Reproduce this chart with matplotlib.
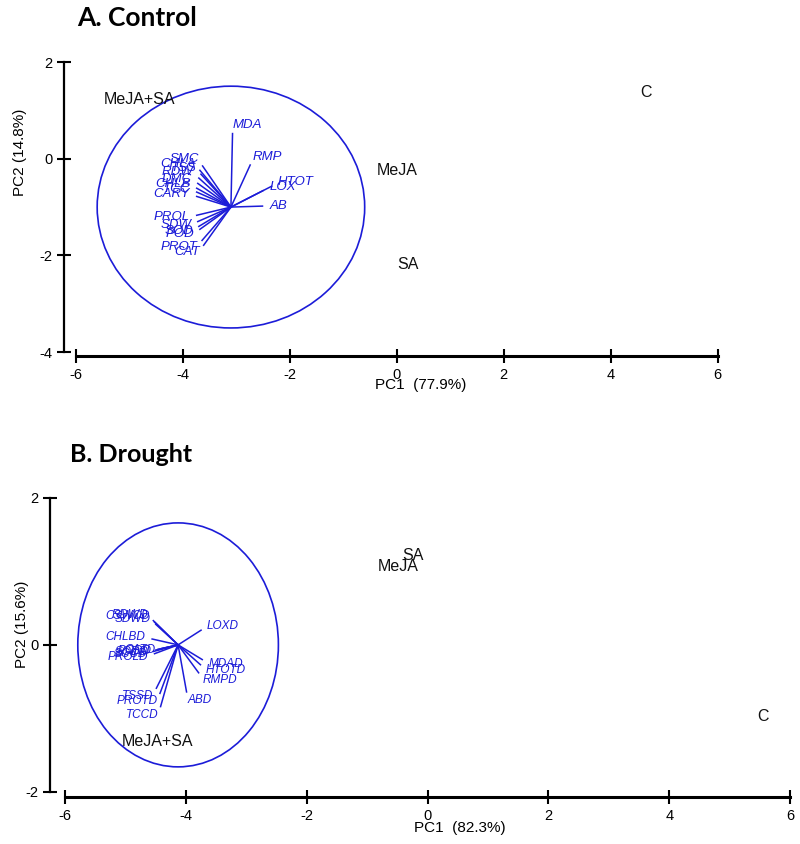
import matplotlib
matplotlib.use('Agg')
import matplotlib.pyplot as plt
from matplotlib.patches import Ellipse
import numpy as np

plt.rcParams['axes.unicode_minus'] = False

# ---- data ----
ctrl_groups = ['MeJA+SA', 'C', 'MeJA', 'SA']
ctrl_gx = [-4.8, 4.65, 0.0, 0.2]
ctrl_gy = [1.23, 1.36, -0.24, -2.18]

ctrl_vars = ['MDA', 'RMP', 'HTOT', 'LOX', 'AB', 'SMC', 'CHLA', 'TSS', 'RDW', 'DMC',
             'CHLB', 'TCC', 'CARY', 'PROL', 'SDW', 'SOD', 'POD', 'PROT', 'CAT']
ctrl_lx = [0.03, 0.36, 0.76, 0.60, 0.59, -0.53, -0.58, -0.56, -0.60, -0.62,
           -0.64, -0.64, -0.64, -0.64, -0.62, -0.60, -0.58, -0.54, -0.51]
ctrl_ly = [1.52, 0.87, 0.43, 0.34, 0.02, 0.85, 0.76, 0.68, 0.60, 0.49,
           0.39, 0.31, 0.22, -0.17, -0.30, -0.40, -0.46, -0.69, -0.79]
ctrl_center = (-3.1, -1.0)
ctrl_radius = 2.5

dr_groups = ['SA', 'MeJA', 'C', 'MeJA+SA']
dr_gx = [-0.25, -0.49, 5.55, -4.47]
dr_gy = [1.21, 1.07, -0.97, -1.31]

dr_vars = ['LOXD', 'MDAD', 'HTOTD', 'RMPD', 'ABD', 'TSSD', 'PROTD', 'TCCD',
           'RDWD', 'CSWCD', 'SDWD', 'CHLBD', 'SCCD', 'SODD', 'PODD', 'CATD', 'PROLD']
dr_lx = [0.38, 0.40, 0.37, 0.34, 0.14, -0.36, -0.30, -0.29,
         -0.41, -0.39, -0.37, -0.43, -0.41, -0.37, -0.33, -0.27, -0.39]
dr_ly = [0.20, -0.20, -0.27, -0.38, -0.64, -0.59, -0.66, -0.84,
         0.33, 0.31, 0.28, 0.08, -0.09, -0.07, -0.06, -0.05, -0.12]
dr_center = (-4.13, 0.0)
dr_radius = 1.66

BLUE = '#1c1cd8'
NARROW = ['Liberation Sans Narrow', 'Liberation Sans']


def biplot(ax, gnames, gx, gy, vnames, lx, ly, center, radius, vsize):
    ax.add_patch(Ellipse(center, 2 * radius, 2 * radius, fill=False,
                         edgecolor=BLUE, lw=1.2))
    cx, cy = center
    for name, dx, dy in zip(vnames, lx, ly):
        ax.plot([cx, cx + dx], [cy, cy + dy], color=BLUE, lw=1.1)
        # offset label a little beyond the arrow end
        p0 = ax.transData.transform((cx, cy))
        p1 = ax.transData.transform((cx + dx, cy + dy))
        d = (p1 - p0) / np.hypot(*(p1 - p0))
        ax.annotate(name, (cx + dx, cy + dy), xytext=(d[0] * 5, d[1] * 6),
                    textcoords='offset points', ha='left' if dx >= 0 else 'right',
                    va='center', color=BLUE, style='italic',
                    family='Liberation Sans', fontsize=vsize)
    for name, x, y in zip(gnames, gx, gy):
        ax.text(x, y, name, ha='center', va='center', fontsize=11.5,
                family='Liberation Sans', color='#111111')

    for s in ['top', 'right']:
        ax.spines[s].set_visible(False)
    ax.spines['bottom'].set_linewidth(2.2)
    ax.spines['left'].set_linewidth(1.6)
    ax.set_xticks(range(-6, 7, 2))
    ax.tick_params(direction='inout', length=10, width=1.5, labelsize=10.5)
    for lab in ax.get_xticklabels() + ax.get_yticklabels():
        lab.set_family(NARROW)


fig = plt.figure(figsize=(8, 8.44), dpi=100)

axA = fig.add_axes([0.08, 0.5782, 0.8206, 0.3512])
axA.set_xlim(-6.22, 6.05)
axA.set_ylim(-4.08, 2.05)
axA.set_yticks([-4, -2, 0, 2])
axA.spines['bottom'].set_bounds(-6, 6)
axA.spines['left'].set_bounds(-4, 2)
biplot(axA, ctrl_groups, ctrl_gx, ctrl_gy, ctrl_vars, ctrl_lx, ctrl_ly,
       ctrl_center, ctrl_radius, 9.5)

axB = fig.add_axes([0.0625, 0.0557, 0.929, 0.3587])
axB.set_xlim(-6.25, 6.05)
axB.set_ylim(-2.07, 2.05)
axB.set_yticks([-2, 0, 2])
axB.spines['bottom'].set_bounds(-6, 6)
axB.spines['left'].set_bounds(-2, 2)
biplot(axB, dr_groups, dr_gx, dr_gy, dr_vars, dr_lx, dr_ly,
       dr_center, dr_radius, 8.5)

fig.text(0.096, 0.979, 'A. Control', fontsize=19, fontweight='bold',
         family='Lato', va='center')
fig.text(0.0875, 0.461, 'B. Drought', fontsize=18, fontweight='bold',
         family='Lato', va='center')
fig.text(0.526, 0.544, 'PC1  (77.9%)', fontsize=11, family=NARROW,
         ha='center', va='center')
fig.text(0.575, 0.019, 'PC1  (82.3%)', fontsize=11, family=NARROW,
         ha='center', va='center')
fig.text(0.025, 0.82, 'PC2 (14.8%)', fontsize=11, family='Liberation Sans',
         rotation=90, ha='center', va='center')
fig.text(0.0275, 0.26, 'PC2 (15.6%)', fontsize=11, family='Liberation Sans',
         rotation=90, ha='center', va='center')

fig.savefig('out.png', dpi=100)
